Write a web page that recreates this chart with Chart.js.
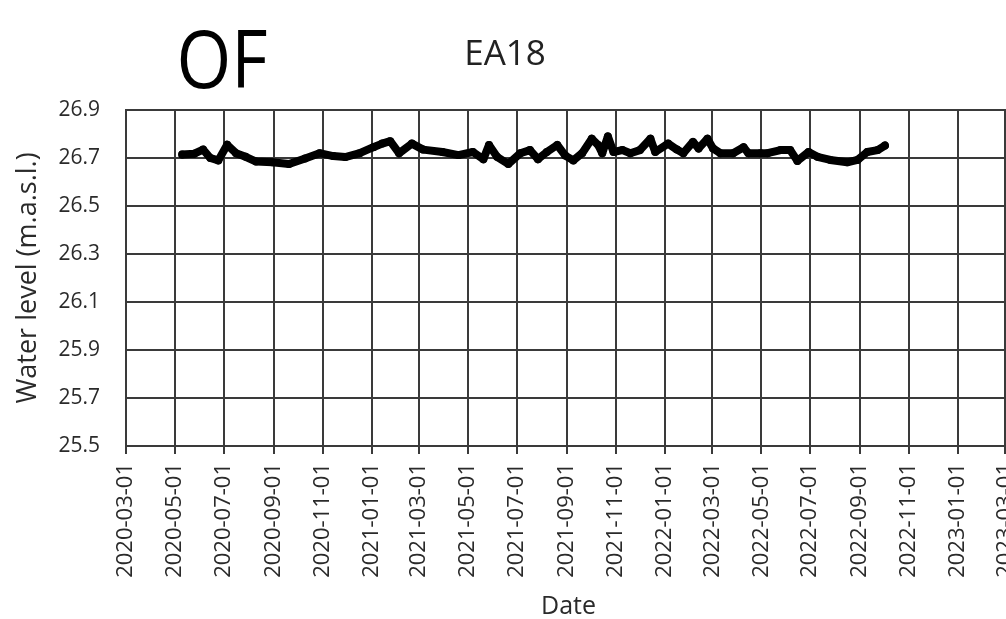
<!DOCTYPE html>
<html>
<head>
<meta charset="utf-8">
<title>EA18 water level</title>
<script src="https://cdn.jsdelivr.net/npm/chart.js@4.4.0/dist/chart.umd.min.js"></script>
<style>
  body { margin: 0; background: #fff; }
  .wrap { width: 1006px; height: 619px; overflow: hidden; }
</style>
</head>
<body>
<div class="wrap"><canvas id="levelChart" width="1030" height="619"></canvas></div>
<script>
// readings (date, water level m.a.s.l.)
const dates = [
    '2020-05-10', '2020-05-25', '2020-06-05', '2020-06-14', '2020-06-24', '2020-07-05',
    '2020-07-16', '2020-07-28', '2020-08-10', '2020-08-30', '2020-09-20', '2020-10-10',
    '2020-10-28', '2020-11-14', '2020-11-29', '2020-12-17', '2021-01-03', '2021-01-14',
    '2021-01-24', '2021-02-04', '2021-02-20', '2021-03-06', '2021-03-30', '2021-04-19',
    '2021-05-07', '2021-05-20', '2021-05-27', '2021-06-06', '2021-06-20', '2021-07-05',
    '2021-07-17', '2021-07-27', '2021-08-07', '2021-08-20', '2021-08-30', '2021-09-09',
    '2021-09-20', '2021-10-02', '2021-10-10', '2021-10-15', '2021-10-22', '2021-10-29',
    '2021-11-09', '2021-11-19', '2021-12-01', '2021-12-14', '2021-12-20', '2022-01-05',
    '2022-01-16', '2022-01-24', '2022-02-05', '2022-02-12', '2022-02-23', '2022-03-02',
    '2022-03-11', '2022-03-27', '2022-04-09', '2022-04-15', '2022-04-30', '2022-05-09',
    '2022-05-25', '2022-06-06', '2022-06-15', '2022-06-29', '2022-07-10', '2022-07-26',
    '2022-08-16', '2022-08-29', '2022-09-10', '2022-09-23', '2022-10-02'
];
const levels = [
    26.715, 26.718, 26.735, 26.700, 26.690, 26.755,
    26.720, 26.705, 26.685, 26.682, 26.675, 26.698,
    26.720, 26.708, 26.704, 26.720, 26.745, 26.760,
    26.770, 26.720, 26.760, 26.735, 26.725, 26.712,
    26.725, 26.695, 26.754, 26.705, 26.675, 26.720,
    26.733, 26.695, 26.725, 26.754, 26.710, 26.690,
    26.720, 26.780, 26.754, 26.720, 26.790, 26.725,
    26.733, 26.720, 26.733, 26.780, 26.725, 26.760,
    26.735, 26.720, 26.767, 26.740, 26.780, 26.740,
    26.720, 26.720, 26.745, 26.720, 26.720, 26.720,
    26.733, 26.733, 26.688, 26.725, 26.705, 26.692,
    26.682, 26.692, 26.725, 26.733, 26.752
];

const tickDates = [
    '2020-03-01', '2020-05-01', '2020-07-01', '2020-09-01', '2020-11-01',
    '2021-01-01', '2021-03-01', '2021-05-01', '2021-07-01', '2021-09-01', '2021-11-01',
    '2022-01-01', '2022-03-01', '2022-05-01', '2022-07-01', '2022-09-01', '2022-11-01',
    '2023-01-01', '2023-03-01'
];
const yTicks = [25.5, 25.7, 25.9, 26.1, 26.3, 26.5, 26.7, 26.9];

const panelLabel = 'OF';
const wellName = 'EA18';

Chart.defaults.font.family = '"Open Sans", sans-serif';
Chart.defaults.color = '#2a2a2a';

//-------------------------------
const headerText = {
    id: 'headerText',
    afterDraw(chart) {
        const c = chart.ctx;
        c.save();
        c.textAlign = 'center';
        c.textBaseline = 'alphabetic';
        c.fillStyle = '#000';
        c.translate(222, 88);
        c.scale(0.88, 1);
        c.font = '80px "Open Sans"';
        c.fillText(panelLabel, 0, 0);
        c.restore();

        c.save();
        c.textAlign = 'center';
        c.textBaseline = 'alphabetic';
        c.fillStyle = '#222';
        c.font = '35px "Open Sans"';
        c.fillText(wellName, 505, 65);
        c.restore();
    }
};

const gridColor = '#3a3a3a';

const ctx = document.getElementById('levelChart');
new Chart(ctx, {
    type: 'line',
    data: {
        datasets: [{
            data: dates.map((d, i) => ({ x: Date.parse(d), y: levels[i] })),
            borderColor: '#000',
            backgroundColor: '#000',
            borderWidth: 8,
            borderJoinStyle: 'round',
            borderCapStyle: 'round',
            pointRadius: 4,
            pointBorderWidth: 0,
            tension: 0
        }]
    },
    options: {
        responsive: false,
        animation: false,
        layout: { padding: { top: 110, left: 8, right: 19, bottom: 0 } },
        plugins: {
            legend: { display: false },
            tooltip: { enabled: false }
        },
        scales: {
            x: {
                type: 'linear',
                min: Date.parse('2020-03-01'),
                max: Date.parse('2023-03-08'),
                afterBuildTicks: s => { s.ticks = tickDates.map(d => ({ value: Date.parse(d) })); },
                afterFit: s => { s.height = 173; s.paddingLeft = 0; s.paddingRight = 0; },
                grid: { color: gridColor, lineWidth: 2, tickLength: 8 },
                border: { color: gridColor, width: 2 },
                ticks: {
                    autoSkip: false,
                    maxRotation: 90,
                    minRotation: 90,
                    padding: 9,
                    font: { size: 22 },
                    callback: (v, i) => tickDates[i]
                },
                title: {
                    display: true,
                    text: 'Date',
                    font: { size: 25, lineHeight: 1 },
                    padding: { top: 0, bottom: 0 }
                }
            },
            y: {
                min: 25.5,
                max: 26.9,
                afterBuildTicks: s => { s.ticks = yTicks.map(v => ({ value: v })); },
                afterFit: s => { s.width = 118; s.paddingTop = 0; s.paddingBottom = 0; },
                grid: { color: gridColor, lineWidth: 2, drawTicks: false },
                border: { color: gridColor, width: 2 },
                ticks: {
                    padding: 26,
                    font: { size: 21 },
                    callback: v => v.toFixed(1)
                },
                title: {
                    display: true,
                    text: 'Water level (m.a.s.l.)',
                    font: { size: 27, lineHeight: 1.2 },
                    padding: { top: 4, bottom: 4 }
                }
            }
        }
    },
    plugins: [headerText]
});
</script>
</body>
</html>
